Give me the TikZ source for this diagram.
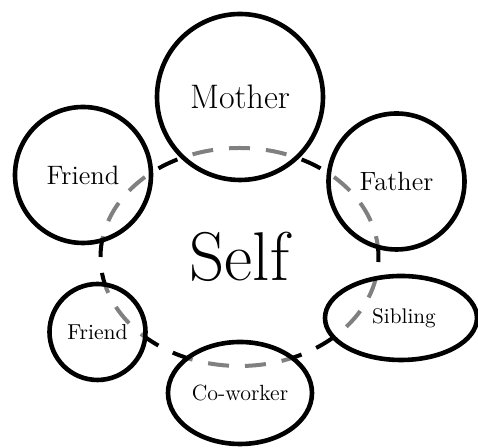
\documentclass[tikz,border=0pt]{standalone}
\usetikzlibrary{shapes.geometric}
\begin{document}
\begin{tikzpicture}[x=0.5pt,y=0.5pt,
    ring/.style={draw=black,line width=2pt,inner sep=0pt},
    person/.style={ring,line width=2.3pt,fill=white,fill opacity=0.5,text opacity=1},
    roundperson/.style={person,circle},
    ovalperson/.style={person,ellipse}]
    \useasboundingbox (0,0) rectangle (478,448);
    \node[ring,ellipse,dash pattern=on 10.5pt off 8pt,minimum width=139pt,minimum height=109pt] (self) at (239.5,191) {\fontsize{34.5}{38}\selectfont Self};
    \node[roundperson,minimum size=83pt] (mother) at (240,351) {\fontsize{17}{20}\selectfont Mother};
    \node[roundperson,minimum size=68pt] (friendtop) at (83,273) {\fontsize{13.3}{16}\selectfont Friend};
    \node[roundperson,minimum size=68pt] (father) at (396.5,266.5) {\fontsize{13.2}{16}\selectfont Father};
    \node[roundperson,minimum size=48pt] (friendlow) at (97.5,116) {\fontsize{10.8}{13}\selectfont Friend};
    \node[ovalperson,minimum width=76pt,minimum height=42pt] (sibling) at (401,130) {\hspace{3pt}\fontsize{10.6}{13}\selectfont Sibling};
    \node[ovalperson,minimum width=72pt,minimum height=51pt] (coworker) at (240,55) {\fontsize{11}{13}\selectfont Co-worker};
\end{tikzpicture}
\end{document}
